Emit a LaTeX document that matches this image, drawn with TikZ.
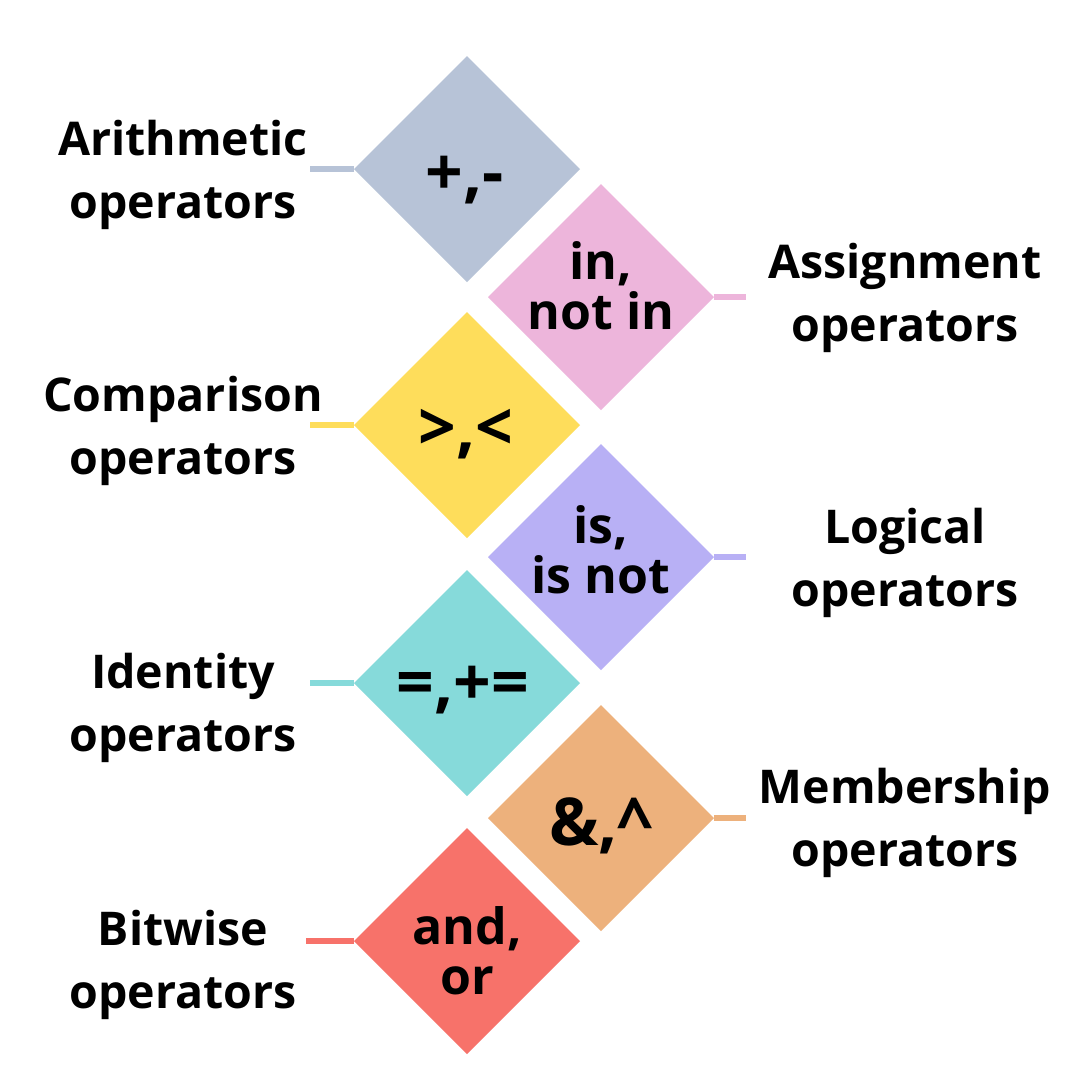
\documentclass[tikz,border=0pt]{standalone}
\usepackage{fontspec}
\setmainfont{Open Sans}[BoldFont={* Bold}]
\definecolor{cgray}{HTML}{B7C3D7}
\definecolor{cpink}{HTML}{EDB5DB}
\definecolor{cyel}{HTML}{FEDD5B}
\definecolor{clav}{HTML}{B8B0F5}
\definecolor{cteal}{HTML}{86DADA}
\definecolor{corg}{HTML}{EDB17C}
\definecolor{cred}{HTML}{F7726A}
\begin{document}
\begin{tikzpicture}[x=1pt,y=-1pt,
  optext/.style={font=\bfseries\fontsize{50}{50}\selectfont,align=center,text=black,inner sep=0pt},
  bigop/.style={font=\bfseries\fontsize{66}{66}\selectfont,text=black,inner sep=0pt},
  lab/.style={font=\bfseries\fontsize{46.5}{63}\selectfont,align=center,text=black},
  conn/.style={line width=5.5pt,draw=#1}]
\useasboundingbox (0,0) rectangle (1080,1080);
\fill[white] (0,0) rectangle (1080,1080);
\newcommand{\diam}[4]{%
  \fill[#3] (#1-113,#2) -- (#1,#2-113) -- (#1+113,#2) -- (#1,#2+113) -- cycle;
  \coordinate (#4L) at (#1-113,#2);
  \coordinate (#4R) at (#1+113,#2);
  \coordinate (#4C) at (#1,#2);}
\diam{467}{169}{cgray}{d1}
\diam{601}{297}{cpink}{d2}
\diam{467}{425}{cyel}{d3}
\diam{601}{557}{clav}{d4}
\diam{467}{683}{cteal}{d5}
\diam{601}{818}{corg}{d6}
\diam{467}{941}{cred}{d7}
\node[bigop] (t1) at (465,180) {+,-};
\node[optext] (t2) at (601,286) {in,\\not in};
\node[bigop] (t3) at (466,434) {>,<};
\node[optext] (t4) at (601,550) {is,\\is not};
\node[bigop] (t5) at (463,690) {=,+=};
\node[bigop] (t6) at (601,826) {\&,\textasciicircum};
\node[optext] (t7) at (467,951) {and,\\or};
\coordinate (e1) at (310,169);
\coordinate (e2) at (746,297);
\coordinate (e3) at (310,425);
\coordinate (e4) at (746,557);
\coordinate (e5) at (310,683);
\coordinate (e6) at (746,818);
\coordinate (e7) at (306,941);
\draw[conn=cgray] (e1) -- (d1L);
\draw[conn=cpink] (d2R) -- (e2);
\draw[conn=cyel] (e3) -- (d3L);
\draw[conn=clav] (d4R) -- (e4);
\draw[conn=cteal] (e5) -- (d5L);
\draw[conn=corg] (d6R) -- (e6);
\draw[conn=cred] (e7) -- (d7L);
\node[lab] (l1) at (183,175) {Arithmetic\\operators};
\node[lab] (l2) at (905,298) {Assignment\\operators};
\node[lab] (l3) at (183,431) {Comparison\\operators};
\node[lab] (l4) at (905,563) {Logical\\operators};
\node[lab] (l5) at (183,708) {Identity\\operators};
\node[lab] (l6) at (905,823) {Membership\\operators};
\node[lab] (l7) at (183,965) {Bitwise\\operators};
\end{tikzpicture}
\end{document}
